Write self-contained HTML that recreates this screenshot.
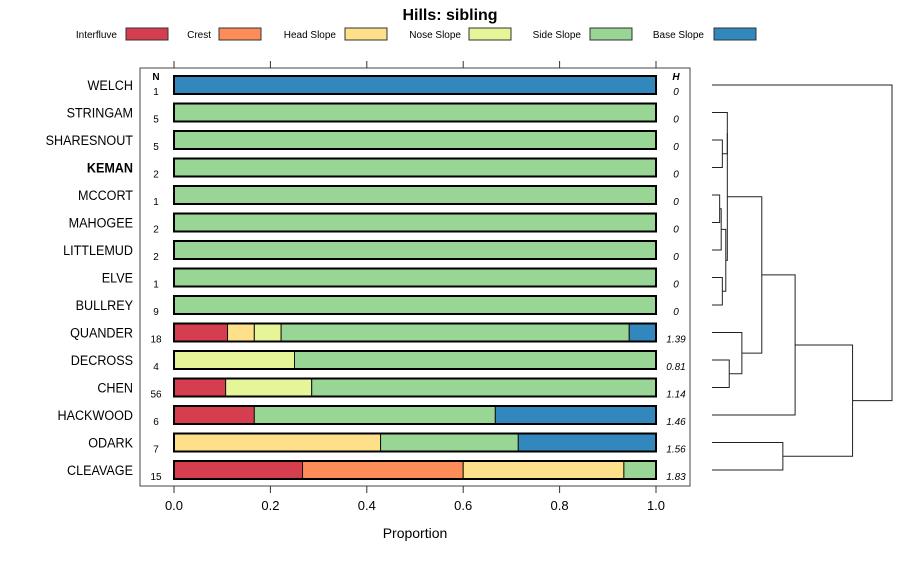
<!DOCTYPE html>
<html><head><meta charset="utf-8"><style>
body{margin:0;background:#fff}
svg{font-family:"Liberation Sans",sans-serif}
</style></head><body>
<svg id="c" width="900" height="560" xmlns="http://www.w3.org/2000/svg">
<text x="450" y="20" text-anchor="middle" font-size="16" font-weight="bold">Hills: sibling</text>
<g id="legend"></g>
<rect x="140" y="68" width="550" height="418" fill="none" stroke="#444" stroke-width="1"/>
<text x="156" y="80" text-anchor="middle" font-size="10" font-weight="bold">N</text>
<text x="676" y="80" text-anchor="middle" font-size="10" font-weight="bold" font-style="italic">H</text>
<g id="bars"></g>
<g id="axis"></g>
<text x="415" y="538" text-anchor="middle" font-size="14">Proportion</text>
<g id="dendro"></g>
</svg>
<script>
const classes=["Interfluve","Crest","Head Slope","Nose Slope","Side Slope","Base Slope"];
const colors=["#D53E4F","#FC8D59","#FEE08B","#E6F598","#99D594","#3288BD"];
const names=["WELCH","STRINGAM","SHARESNOUT","KEMAN","MCCORT","MAHOGEE","LITTLEMUD","ELVE","BULLREY","QUANDER","DECROSS","CHEN","HACKWOOD","ODARK","CLEAVAGE"];
const nVals=[1,5,5,2,1,2,2,1,9,18,4,56,6,7,15];
const hVals=["0","0","0","0","0","0","0","0","0","1.39","0.81","1.14","1.46","1.56","1.83"];
const interfluve=[0,0,0,0,0,0,0,0,0,2/18,0,6/56,1/6,0,4/15];
const crest=[0,0,0,0,0,0,0,0,0,0,0,0,0,0,5/15];
const headSlope=[0,0,0,0,0,0,0,0,0,1/18,0,0,0,3/7,5/15];
const noseSlope=[0,0,0,0,0,0,0,0,0,1/18,1/4,10/56,0,0,0];
const sideSlope=[0,1,1,1,1,1,1,1,1,13/18,3/4,40/56,3/6,2/7,1/15];
const baseSlope=[1,0,0,0,0,0,0,0,0,1/18,0,0,2/6,2/7,0];
const ticks=[0,0.2,0.4,0.6,0.8,1.0];
const tickLabels=["0.0","0.2","0.4","0.6","0.8","1.0"];
// dendrogram merges: [left, right, height]; negative = leaf index
const merges=[[-2,-3,0.27],[-1,1,0.4],[-4,-5,0.2],[3,-6,0.24],[-7,-8,0.27],[4,5,0.36],[2,6,0.4],[-10,-11,0.45],[-9,8,0.78],[7,9,1.3],[10,-12,2.17],[-13,-14,1.85],[11,12,3.67],[-0,13,4.7]];
const NS="http://www.w3.org/2000/svg";
function mk(t,a,p){const e=document.createElementNS(NS,t);for(const k in a)e.setAttribute(k,a[k]);p.appendChild(e);return e;}
const X=v=>174+v*482, Y=i=>85+i*27.5;
const lg=document.getElementById('legend');
const lx=[[117,126],[211,219],[336,345],[461,469],[581,590],[704,714]];
classes.forEach((c,i)=>{
 const t=mk('text',{x:lx[i][0],y:38,'text-anchor':'end','font-size':10},lg);t.textContent=c;
 
 
 const r=mk('rect',{x:lx[i][1],y:28,width:42,height:12,fill:colors[i],stroke:'#333','stroke-width':1},lg);
 
 
});
const series=[interfluve,crest,headSlope,noseSlope,sideSlope,baseSlope];
const bg=document.getElementById('bars');
names.forEach((n,i)=>{
 const y=Y(i);
 const t=mk('text',{x:133,y:y+5,'text-anchor':'end','font-size':14,'font-weight':n==="KEMAN"?'bold':'normal',transform:`translate(133 0) scale(0.9 1) translate(-133 0)`},bg);t.textContent=n;
 
 
 const nt=mk('text',{x:156,y:y+10,'text-anchor':'middle','font-size':10},bg);nt.textContent=nVals[i];
 
 
 const ht=mk('text',{x:676,y:y+10,'text-anchor':'middle','font-size':10,'font-style':'italic'},bg);ht.textContent=hVals[i];
 
 
 let cum=0;
 series.forEach((s,k)=>{
  if(s[i]>0){
   const r=mk('rect',{x:X(cum),y:y-9,width:X(cum+s[i])-X(cum),height:18,fill:colors[k],stroke:'#111','stroke-width':1},bg);
   
   
   cum+=s[i];
  }
 });
 mk('rect',{x:X(0),y:y-9,width:X(1)-X(0),height:18,fill:'none',stroke:'#000','stroke-width':2},bg);
});
const ax=document.getElementById('axis');
ticks.forEach((v,i)=>{
 mk('line',{x1:X(v),x2:X(v),y1:61,y2:68,stroke:'#333'},ax);
 mk('line',{x1:X(v),x2:X(v),y1:486,y2:493,stroke:'#333'},ax);
 const t=mk('text',{x:X(v),y:510,'text-anchor':'middle','font-size':13},ax);t.textContent=tickLabels[i];
 
 
});
const dg=document.getElementById('dendro');
const DX=h=>712+h*38.3;
const nodes=[];
function pos(r){return r<=0?{x:712,y:Y(-r)}:nodes[r-1];}
merges.forEach(m=>{
 const a=pos(m[0]),b=pos(m[1]),x=DX(m[2]);
 mk('path',{d:`M${a.x},${a.y}H${x}V${b.y}H${b.x}`,fill:'none',stroke:'#222','stroke-width':1},dg);
 nodes.push({x:x,y:(a.y+b.y)/2});
});
</script>
</body></html>
